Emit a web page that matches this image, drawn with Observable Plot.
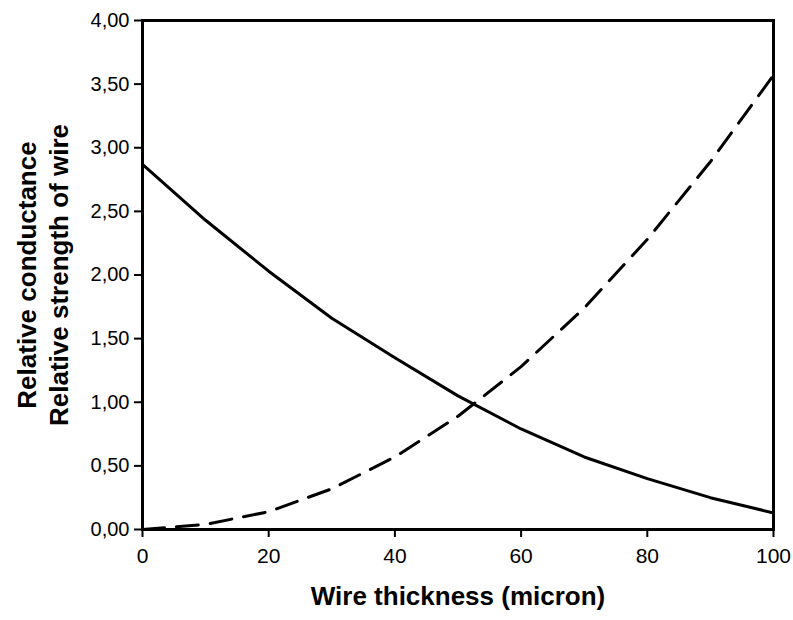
<!DOCTYPE html>
<html>
<head>
<meta charset="utf-8">
<script src="https://cdn.jsdelivr.net/npm/d3@7"></script>
<script src="https://cdn.jsdelivr.net/npm/@observablehq/plot@0.6"></script>
<style>
  html, body { margin: 0; padding: 0; background: #fff; }
  svg { display: block; }
</style>
</head>
<body>
<div id="chart"></div>
<script>
const thickness   = [0, 10, 20, 30, 40, 50, 60, 70, 80, 90, 100];
const conductance = [2.87, 2.43, 2.03, 1.66, 1.35, 1.05, 0.79, 0.57, 0.40, 0.25, 0.13];
const strength    = [0.00, 0.04, 0.14, 0.32, 0.57, 0.89, 1.28, 1.74, 2.28, 2.89, 3.57];
const xTicks = [0, 20, 40, 60, 80, 100];
const yTicks = [0, 0.5, 1, 1.5, 2, 2.5, 3, 3.5, 4];
const xTitle = "Wire thickness (micron)";
const yTitle = "Relative conductance\nRelative strength of wire";

const fmt = d => d.toFixed(2).replace(".", ",");

const chart = Plot.plot({
  width: 793,
  height: 620,
  marginLeft: 142,
  marginRight: 20,
  marginTop: 20,
  marginBottom: 91,
  style: { fontFamily: "'Liberation Sans', Arial, sans-serif", color: "#000", background: "#fff" },
  x: { domain: [0, 100] },
  y: { domain: [0, 4] },
  marks: [
    Plot.axisX({ticks: xTicks, tickSize: 8, tickPadding: 11, fontSize: 21, strokeWidth: 2, label: null}),
    Plot.axisY({ticks: yTicks, tickSize: 8, tickPadding: 5, fontSize: 20, strokeWidth: 2, tickFormat: fmt, label: null}),
    Plot.line(thickness, {x: thickness, y: conductance, stroke: "#000", strokeWidth: 3}),
    Plot.line(thickness, {x: thickness, y: strength, stroke: "#000", strokeWidth: 3, strokeDasharray: "22,12"}),
    Plot.frame({stroke: "#000", strokeWidth: 3}),
    Plot.text([xTitle], {text: d => d, frameAnchor: "bottom", dy: 75, fontSize: 26, fontWeight: "bold", fill: "#000"}),
    Plot.text([yTitle], {text: d => d, frameAnchor: "left", textAnchor: "middle", rotate: -90, dx: -101, lineHeight: 1.23, fontSize: 26, fontWeight: "bold", fill: "#000"})
  ]
});
document.getElementById("chart").appendChild(chart);
</script>
</body>
</html>
